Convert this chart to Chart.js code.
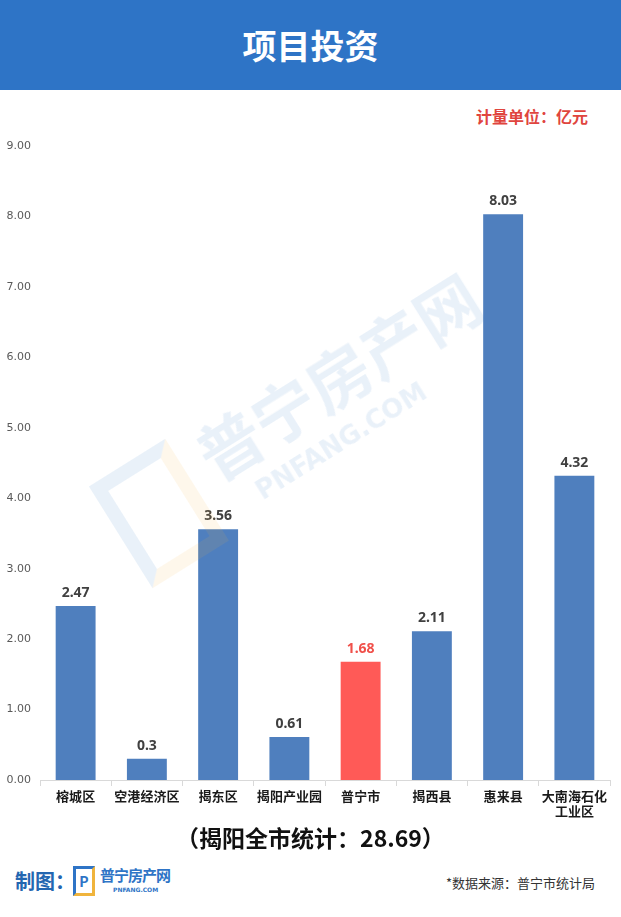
<!DOCTYPE html>
<html>
<head>
<meta charset="utf-8">
<script src="https://cdn.jsdelivr.net/npm/chart.js@4.4.0/dist/chart.umd.min.js"></script>
<style>
  html, body { margin: 0; padding: 0; background: #fff; }
  body { width: 621px; height: 917px; position: relative; overflow: hidden; font-family: "Noto Sans CJK SC", "Noto Sans", sans-serif; }
  .header { position: absolute; left: 0; top: 0; width: 621px; height: 90px; background: #2e74c6; color: #fff; text-align: center; line-height: 90px; font-size: 34px; font-weight: bold; letter-spacing: 0px; }
  .unit { position: absolute; right: 33px; top: 104px; color: #e0453e; font-size: 16px; font-weight: bold; }
  .chart-box { position: absolute; left: 0; top: 100px; width: 621px; height: 740px; }
  .total { position: absolute; left: 0; width: 621px; top: 820px; text-align: center; font-size: 23px; font-weight: bold; color: #111; }
  .maker { position: absolute; left: 15px; top: 866px; color: #2466b0; font-size: 20px; font-weight: bold; }
  .logo { position: absolute; left: 73px; top: 864px; width: 100px; height: 38px; }
  .logo .icon { position: absolute; left: 0; top: 2px; width: 22px; height: 30px; border: 3px solid #2e74c6; border-right-color: #f0b43c; border-bottom-color: #f0b43c; box-sizing: border-box; color: #2e74c6; font-weight: bold; font-size: 14px; text-align: center; line-height: 24px; }
  .logo .name { position: absolute; left: 27px; top: 0; color: #2e74c6; font-size: 15px; font-weight: bold; letter-spacing: -1px; white-space: nowrap; }
  .logo .site { position: absolute; left: 40px; top: 22px; color: #2e74c6; font-size: 6px; font-weight: bold; font-family: "DejaVu Sans", sans-serif; white-space: nowrap; }
  .source { position: absolute; right: 26px; top: 873px; color: #333; font-size: 13px; }
  .mark { position: absolute; left: 110px; top: 330px; width: 420px; height: 260px; transform: rotate(-32deg); opacity: 0.1; pointer-events: none; white-space: nowrap; }
  .mark .big { position: absolute; left: 110px; top: 20px; font-size: 64px; font-weight: bold; color: #2e74c6; }
  .mark .small { position: absolute; left: 140px; top: 110px; font-size: 26px; font-weight: bold; color: #2e74c6; font-family: "DejaVu Sans", sans-serif; }
  .mark .box { position: absolute; left: 0; top: 30px; width: 90px; height: 120px; border: 14px solid #2e74c6; border-right-color: #f0b43c; border-bottom-color: #f0b43c; box-sizing: border-box; }
</style>
</head>
<body>
<div class="header">项目投资</div>
<div class="unit">计量单位：亿元</div>
<div class="chart-box"><canvas id="ctx-invest"></canvas></div>
<div class="mark"><div class="box"></div><div class="big">普宁房产网</div><div class="small">PNFANG.COM</div></div>
<div class="total">（揭阳全市统计：28.69）</div>
<div class="maker">制图：</div>
<div class="logo"><div class="icon">P</div><div class="name">普宁房产网</div><div class="site">PNFANG.COM</div></div>
<div class="source">*数据来源：普宁市统计局</div>

<script>
const categories = ['榕城区', '空港经济区', '揭东区', '揭阳产业园', '普宁市', '揭西县', '惠来县', ['大南海石化', '工业区']];
const values = [2.47, 0.3, 3.56, 0.61, 1.68, 2.11, 8.03, 4.32];
const valueText = ['2.47', '0.3', '3.56', '0.61', '1.68', '2.11', '8.03', '4.32'];
const highlight = 4; // 普宁市

const blue = '#4f7fbe';
const red = '#ff5a57';

const barColors = values.map((v, i) => i === highlight ? red : blue);

// draw the value above each bar
const valueLabels = {
    id: 'valueLabels',
    afterDatasetsDraw(chart) {
        const ctx = chart.ctx;
        const meta = chart.getDatasetMeta(0);
        ctx.save();
        ctx.font = 'bold 14px "Noto Sans", sans-serif';
        ctx.textAlign = 'center';
        ctx.textBaseline = 'bottom';
        meta.data.forEach((bar, i) => {
            ctx.fillStyle = i === highlight ? '#f0504a' : '#404040';
            ctx.fillText(valueText[i], bar.x, bar.y - 6);
        });
        ctx.restore();
    }
};

const ctx = document.getElementById('ctx-invest');

new Chart(ctx, {
    type: 'bar',
    data: {
        labels: categories,
        datasets: [{
            data: values,
            backgroundColor: barColors,
            barPercentage: 0.56,
            categoryPercentage: 1
        }]
    },
    options: {
        responsive: true,
        maintainAspectRatio: false,
        animation: false,
        layout: { padding: { top: 46, right: 11, left: 0, bottom: 0 } },
        plugins: {
            legend: { display: false },
            tooltip: { enabled: false }
        },
        scales: {
            x: {
                grid: { drawOnChartArea: false, drawTicks: true, tickLength: 6, color: '#d9d9d9', offset: true },
                border: { display: true, color: '#d9d9d9' },
                ticks: {
                    color: '#1a1a1a',
                    font: { family: '"Noto Sans CJK SC", sans-serif', size: 13, weight: 'bold' },
                    padding: 2,
                    maxRotation: 0,
                    autoSkip: false
                },
                afterFit: (scale) => { scale.height = 60; }
            },
            y: {
                min: 0,
                max: 9,
                grid: { display: false },
                border: { display: false },
                ticks: {
                    stepSize: 1,
                    color: '#595959',
                    font: { family: '"DejaVu Sans", sans-serif', size: 11 },
                    padding: 1,
                    callback: (v) => v.toFixed(2)
                },
                afterFit: (scale) => { scale.width = 40; }
            }
        }
    },
    plugins: [valueLabels]
});
</script>
</body>
</html>
